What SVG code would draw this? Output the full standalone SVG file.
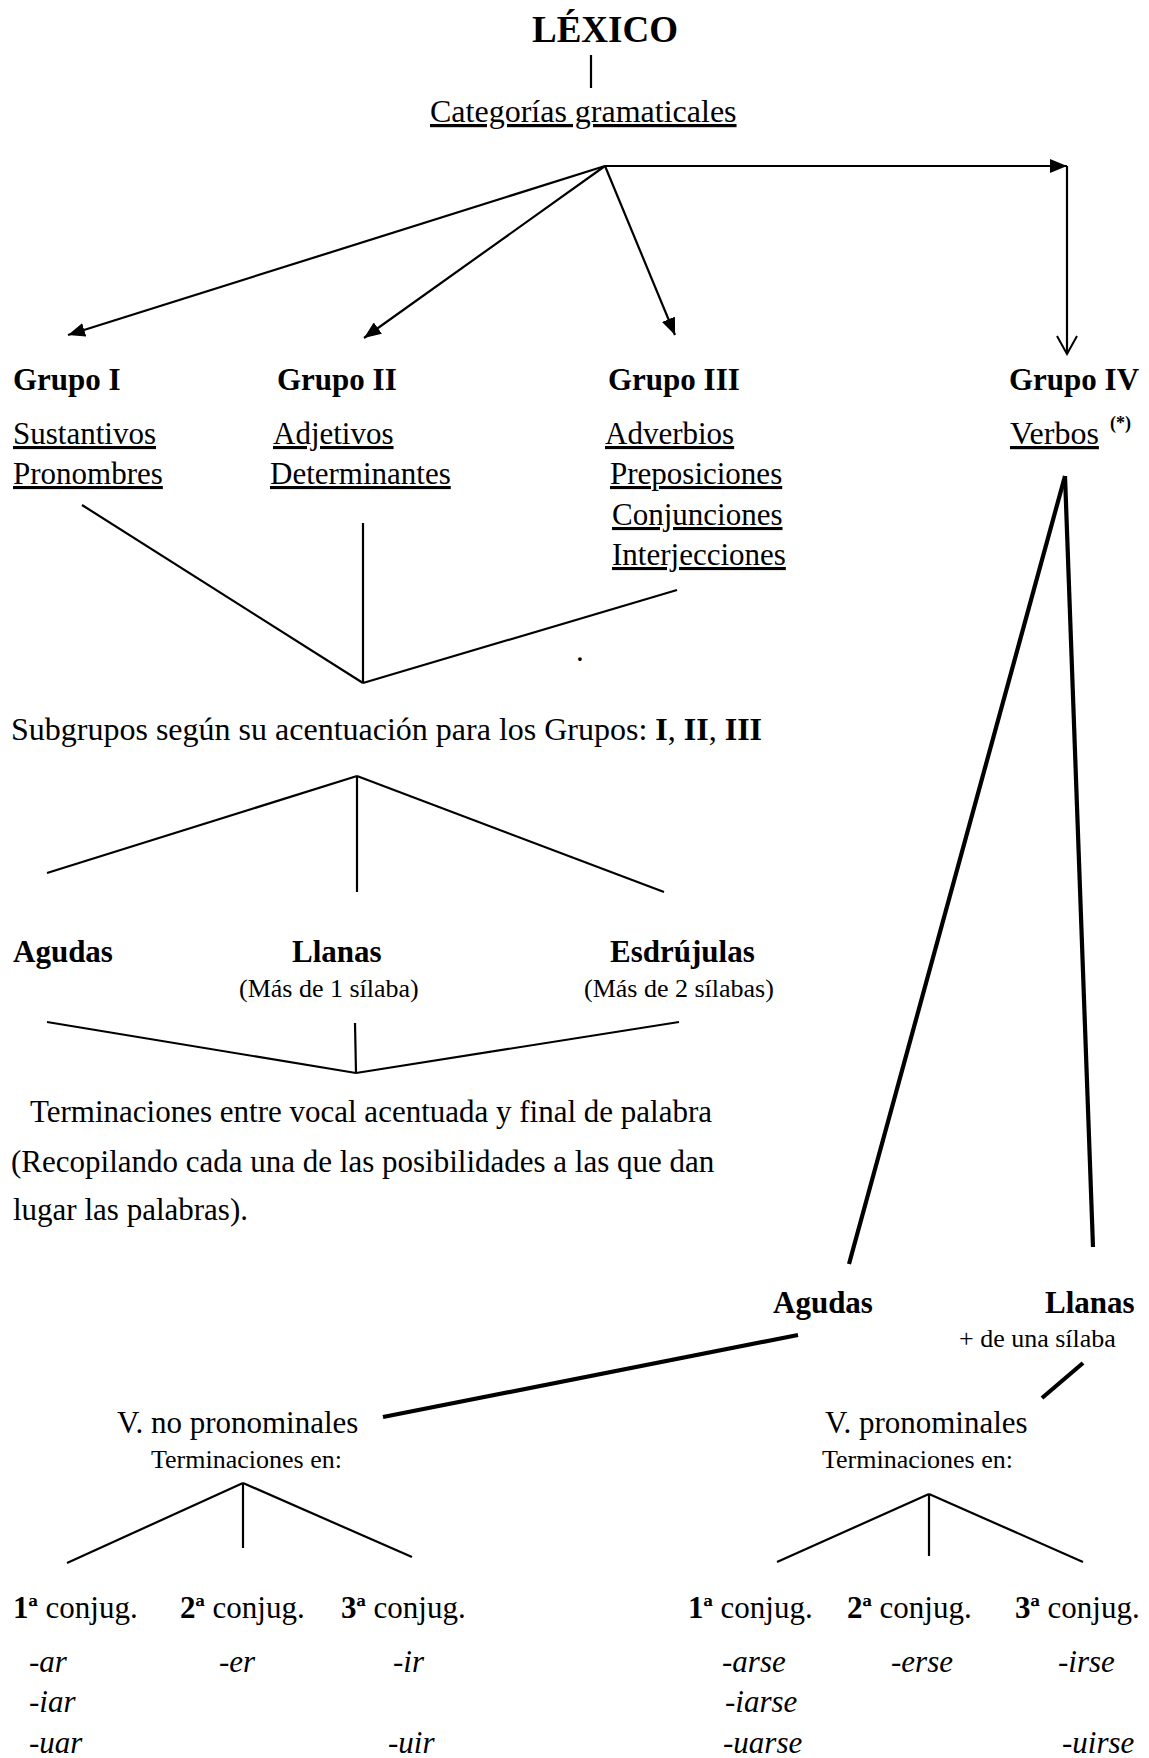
<svg xmlns="http://www.w3.org/2000/svg" width="1149" height="1758" viewBox="0 0 1149 1758">
<style>
text{font-family:"Liberation Serif","Times New Roman",serif;fill:#000}
.t{font-size:31px}
.b{font-size:31px;font-weight:bold}
.s{font-size:26px}
.i{font-size:31px;font-style:italic}
.u{text-decoration:underline}
.ln{stroke:#000;stroke-width:2.2;fill:none}
.th{stroke:#000;stroke-width:4.2;fill:none}
</style>
<defs>
<marker id="ah" markerUnits="userSpaceOnUse" markerWidth="18" markerHeight="14" refX="17" refY="7" orient="auto">
<path d="M0,0 L17,7 L0,14 z" fill="#000"/>
</marker>
<marker id="oh" markerUnits="userSpaceOnUse" markerWidth="22" markerHeight="24" refX="20" refY="12" orient="auto">
<path d="M2,2 L20,12 L2,22" fill="none" stroke="#000" stroke-width="2"/>
</marker>
</defs>
<rect width="1149" height="1758" fill="#fff"/>

<g id="connectors">
<line class="ln" x1="591" y1="55" x2="591" y2="88"/>
<line class="ln" x1="605" y1="166" x2="68" y2="335" marker-end="url(#ah)"/>
<line class="ln" x1="605" y1="166" x2="364" y2="338" marker-end="url(#ah)"/>
<line class="ln" x1="605" y1="166" x2="675" y2="335" marker-end="url(#ah)"/>
<line class="ln" x1="605" y1="166" x2="1067" y2="166" stroke-width="2.8" marker-end="url(#ah)"/>
<line class="ln" x1="1067" y1="166" x2="1067" y2="354" marker-end="url(#oh)"/>

<line class="ln" x1="82" y1="505" x2="363" y2="683"/>
<line class="ln" x1="363" y1="523" x2="363" y2="683"/>
<line class="ln" x1="677" y1="590" x2="363" y2="683"/>

<line class="ln" x1="357" y1="776" x2="47" y2="873"/>
<line class="ln" x1="357" y1="776" x2="357" y2="892"/>
<line class="ln" x1="357" y1="776" x2="664" y2="892"/>

<line class="ln" x1="47" y1="1022" x2="356" y2="1073"/>
<line class="ln" x1="355" y1="1023" x2="356" y2="1073"/>
<line class="ln" x1="679" y1="1022" x2="356" y2="1073"/>

<line class="th" x1="1065" y1="476" x2="849" y2="1264"/>
<line class="th" x1="1065" y1="476" x2="1093" y2="1247"/>
<line class="th" x1="798" y1="1335" x2="383" y2="1417"/>
<line class="th" x1="1083" y1="1363" x2="1042" y2="1398"/>

<line class="ln" x1="243" y1="1483" x2="67" y2="1563"/>
<line class="ln" x1="243" y1="1483" x2="243" y2="1548"/>
<line class="ln" x1="243" y1="1483" x2="412" y2="1557"/>

<line class="ln" x1="929" y1="1494" x2="777" y2="1562"/>
<line class="ln" x1="929" y1="1494" x2="929" y2="1556"/>
<line class="ln" x1="929" y1="1494" x2="1083" y2="1562"/>
</g>

<g id="lexico"><text x="605" y="42" font-size="37" font-weight="bold" text-anchor="middle">LÉXICO</text></g>
<g id="categorias"><text class="u" x="430" y="122" font-size="32">Categorías gramaticales</text></g>

<g id="grupo1">
<text class="b" x="13" y="390">Grupo I</text>
<text class="t u" x="13" y="444">Sustantivos</text>
<text class="t u" x="13" y="484">Pronombres</text>
</g>
<g id="grupo2">
<text class="b" x="277" y="390">Grupo II</text>
<text class="t u" x="273" y="444">Adjetivos</text>
<text class="t u" x="270" y="484">Determinantes</text>
</g>
<g id="grupo3">
<text class="b" x="608" y="390">Grupo III</text>
<text class="t u" x="605" y="444">Adverbios</text>
<text class="t u" x="610" y="484">Preposiciones</text>
<text class="t u" x="612" y="525">Conjunciones</text>
<text class="t u" x="612" y="565">Interjecciones</text>
</g>
<g id="grupo4">
<text class="b" x="1009" y="390">Grupo IV</text>
<text class="u" x="1010" y="444" font-size="32">Verbos</text>
<text x="1110" y="429" font-size="18" font-weight="bold">(*)</text>
</g>
<g id="dot"><text class="t" x="576" y="661">.</text></g>

<g id="subgrupos"><text x="11" y="740" font-size="32">Subgrupos según su acentuación para los Grupos: <tspan font-weight="bold">I</tspan>, <tspan font-weight="bold">II</tspan>, <tspan font-weight="bold">III</tspan></text></g>

<g id="agudas"><text class="b" x="13" y="962">Agudas</text></g>
<g id="llanas">
<text class="b" x="292" y="962">Llanas</text>
<text class="s" x="239" y="997">(Más de 1 sílaba)</text>
</g>
<g id="esdrujulas">
<text class="b" x="610" y="962">Esdrújulas</text>
<text class="s" x="584" y="997">(Más de 2 sílabas)</text>
</g>

<g id="terminaciones">
<text class="t" x="30" y="1122">Terminaciones entre vocal acentuada y final de palabra</text>
<text class="t" x="11" y="1172">(Recopilando cada una de las posibilidades a las que dan</text>
<text class="t" x="13" y="1220">lugar las palabras).</text>
</g>

<g id="verbos-agudas"><text class="b" x="773" y="1313">Agudas</text></g>
<g id="verbos-llanas">
<text class="b" x="1045" y="1313">Llanas</text>
<text class="s" x="959" y="1347">+ de una sílaba</text>
</g>

<g id="no-pronominales">
<text class="t" x="117" y="1433">V. no pronominales</text>
<text class="s" x="151" y="1468">Terminaciones en:</text>
</g>
<g id="pronominales">
<text class="t" x="825" y="1433">V. pronominales</text>
<text class="s" x="822" y="1468">Terminaciones en:</text>
</g>

<g id="np-conj1">
<text class="t" x="13" y="1618"><tspan font-weight="bold">1ª</tspan> conjug.</text>
<text class="i" x="29" y="1672">-ar</text>
<text class="i" x="29" y="1712">-iar</text>
<text class="i" x="29" y="1753">-uar</text>
</g>
<g id="np-conj2">
<text class="t" x="180" y="1618"><tspan font-weight="bold">2ª</tspan> conjug.</text>
<text class="i" x="219" y="1672">-er</text>
</g>
<g id="np-conj3">
<text class="t" x="341" y="1618"><tspan font-weight="bold">3ª</tspan> conjug.</text>
<text class="i" x="393" y="1672">-ir</text>
<text class="i" x="388" y="1753">-uir</text>
</g>

<g id="p-conj1">
<text class="t" x="688" y="1618"><tspan font-weight="bold">1ª</tspan> conjug.</text>
<text class="i" x="722" y="1672">-arse</text>
<text class="i" x="725" y="1712">-iarse</text>
<text class="i" x="723" y="1753">-uarse</text>
</g>
<g id="p-conj2">
<text class="t" x="847" y="1618"><tspan font-weight="bold">2ª</tspan> conjug.</text>
<text class="i" x="891" y="1672">-erse</text>
</g>
<g id="p-conj3">
<text class="t" x="1015" y="1618"><tspan font-weight="bold">3ª</tspan> conjug.</text>
<text class="i" x="1058" y="1672">-irse</text>
<text class="i" x="1062" y="1753">-uirse</text>
</g>
</svg>
